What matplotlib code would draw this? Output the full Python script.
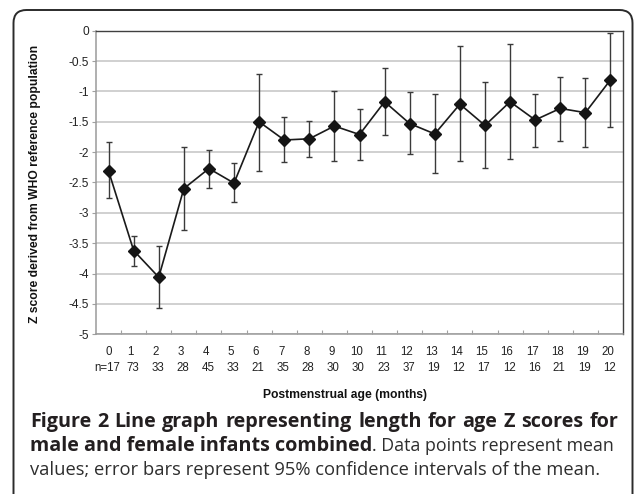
import matplotlib
matplotlib.use('Agg')
import matplotlib.pyplot as plt
import numpy as np
from matplotlib.patches import FancyBboxPatch
from matplotlib.transforms import IdentityTransform, blended_transform_factory

plt.rcParams['axes.unicode_minus'] = False

# ---- data ----
months = ['0', '1', '2', '3', '4', '5', '6', '7', '8', '9', '10',
          '11', '12', '13', '14', '15', '16', '17', '18', '19', '20']
n_counts = ['n=17', '73', '33', '28', '45', '33', '21', '35', '28', '30', '30',
            '23', '37', '19', '12', '17', '12', '16', '21', '19', '12']
mean_z = [-2.31, -3.62, -4.06, -2.60, -2.27, -2.51, -1.50, -1.80, -1.78, -1.57, -1.71,
          -1.17, -1.53, -1.70, -1.21, -1.56, -1.17, -1.47, -1.28, -1.35, -0.81]
ci_upper = [-1.84, -3.38, -3.54, -1.92, -1.96, -2.18, -0.72, -1.42, -1.48, -0.99, -1.29,
            -0.62, -1.01, -1.04, -0.26, -0.85, -0.22, -1.05, -0.76, -0.78, -0.04]
ci_lower = [-2.76, -3.88, -4.56, -3.28, -2.59, -2.82, -2.31, -2.17, -2.08, -2.15, -2.13,
            -1.72, -2.03, -2.35, -2.15, -2.26, -2.11, -1.91, -1.81, -1.91, -1.58]
ytick_vals = [0, -0.5, -1, -1.5, -2, -2.5, -3, -3.5, -4, -4.5, -5]
ytick_labels = ['0', '-0.5', '-1', '-1.5', '-2', '-2.5', '-3', '-3.5', '-4', '-4.5', '-5']

ylabel = 'Z score derived from WHO reference population'
xlabel = 'Postmenstrual age (months)'
cap1 = 'Figure 2 Line graph representing length for age Z scores for'
cap2_bold = 'male and female infants combined'
cap2_reg = '. Data points represent mean'
cap3 = 'values; error bars represent 95% confidence intervals of the mean.'

W, H = 634, 494
fig = plt.figure(figsize=(W / 100, H / 100), dpi=100)
fig.patch.set_facecolor('white')

# outer rounded frame
frame = FancyBboxPatch((13.5, -40), 619.0, 494 - 10 + 40,
                       boxstyle='round,pad=0,rounding_size=13',
                       transform=IdentityTransform(), fill=False,
                       edgecolor='#2b2b2b', linewidth=1.4)
fig.patches.append(frame)

L, R, T, B = 96, 623, 30.7, 334.3
ax = fig.add_axes([L / W, 1 - B / H, (R - L) / W, (B - T) / H])

x = np.arange(len(mean_z))
m = np.array(mean_z)
yerr = [m - np.array(ci_lower), np.array(ci_upper) - m]

ax.errorbar(x, m, yerr=yerr, fmt='none', ecolor='#3a3a3a', elinewidth=1.0,
            capsize=2.2, capthick=1.0, zorder=3)
ax.plot(x, m, color='#1a1a1a', lw=1.2, zorder=4)
ax.plot(x, m, ls='none', marker='D', ms=6, color='#151515', zorder=5)

ax.set_xlim(-0.5, len(mean_z) - 0.5)
ax.set_ylim(-5, 0)
ax.set_yticks(ytick_vals)
ax.set_yticklabels(ytick_labels)
ax.set_xticks(np.arange(0.5, len(mean_z) - 1, 1))
ax.tick_params(axis='x', direction='in', length=3, color='#a0a0a0', width=0.8,
               labelbottom=False)
ax.tick_params(axis='y', direction='out', length=3, color='#a0a0a0', width=0.8,
               labelsize=8.6, pad=2, labelcolor='#222222')
for lab in ax.get_yticklabels():
    lab.set_family('Liberation Sans')

ax.yaxis.grid(True, color='#c4c4c4', lw=1.1)
ax.set_axisbelow(True)
for s in ['left', 'bottom']:
    ax.spines[s].set_color('#9a9a9a')
    ax.spines[s].set_linewidth(1.1)
for s in ['top', 'right']:
    ax.spines[s].set_color('#404040')
    ax.spines[s].set_linewidth(1.0)

trans = blended_transform_factory(ax.transData, ax.transAxes)
row1 = (B - 351.7) / (B - T)
row2 = (B - 367.7) / (B - T)
for i, (mo, nc) in enumerate(zip(months, n_counts)):
    dx = 0.0 if i == 0 else -0.12
    ax.text(i + dx, row1, mo, transform=trans, ha='center', va='center',
            fontsize=8.3, family='Liberation Sans', color='#222222')
    ax.text(i - 0.04, row2, nc, transform=trans, ha='center', va='center',
            fontsize=8.3, family='Liberation Sans', color='#222222')

fig.text(345 / W, 1 - 395 / H, xlabel, ha='center', va='center', fontsize=8.7,
         fontweight='bold', family='Liberation Sans', color='#111111')
fig.text(35 / W, 1 - 183.5 / H, ylabel, ha='center', va='center', rotation=90,
         fontsize=8.7, fontweight='bold', family='Liberation Sans', color='#111111')

# caption
renderer = fig.canvas.get_renderer()
cfam = 'Open Sans'
BOLD_C, REG_C = '#231f20', '#2e2e2e'


def fit_size(text, target, weight):
    t = fig.text(0, 0, text, fontsize=13, fontweight=weight, family=cfam)
    w = t.get_window_extent(renderer).width
    t.remove()
    return 13 * target / w


def justify(words, xa, xb, yb, fs, weight, color):
    ts, ws = [], []
    for wd in words:
        t = fig.text(0, 1 - yb / H, wd, ha='left', va='baseline', fontsize=fs,
                     fontweight=weight, family=cfam, color=color)
        ts.append(t)
        ws.append(t.get_window_extent(renderer).width)
    gap = (xb - xa - sum(ws)) / (len(words) - 1)
    xc = xa
    for t, w in zip(ts, ws):
        t.set_x(xc / W)
        xc += w + gap


x0 = 30
fs_b = fit_size(cap2_bold, 340, 'bold')
fs_r2 = fit_size(cap2_reg, 240, 'normal')
fs_r3 = fit_size(cap3, 568, 'normal')

justify(cap1.split(' '), x0, 618, 426.7, fs_b, 'bold', BOLD_C)
t2 = fig.text(x0 / W, 1 - 451 / H, cap2_bold, ha='left', va='baseline', fontsize=fs_b,
              fontweight='bold', family=cfam, color=BOLD_C)
w2 = t2.get_window_extent(renderer).width
fig.text((x0 + w2) / W, 1 - 451 / H, cap2_reg, ha='left', va='baseline', fontsize=fs_r2,
         family=cfam, color=REG_C)
fig.text(x0 / W, 1 - 475 / H, cap3, ha='left', va='baseline', fontsize=fs_r3,
         family=cfam, color=REG_C)

fig.savefig('out.png', dpi=100)
